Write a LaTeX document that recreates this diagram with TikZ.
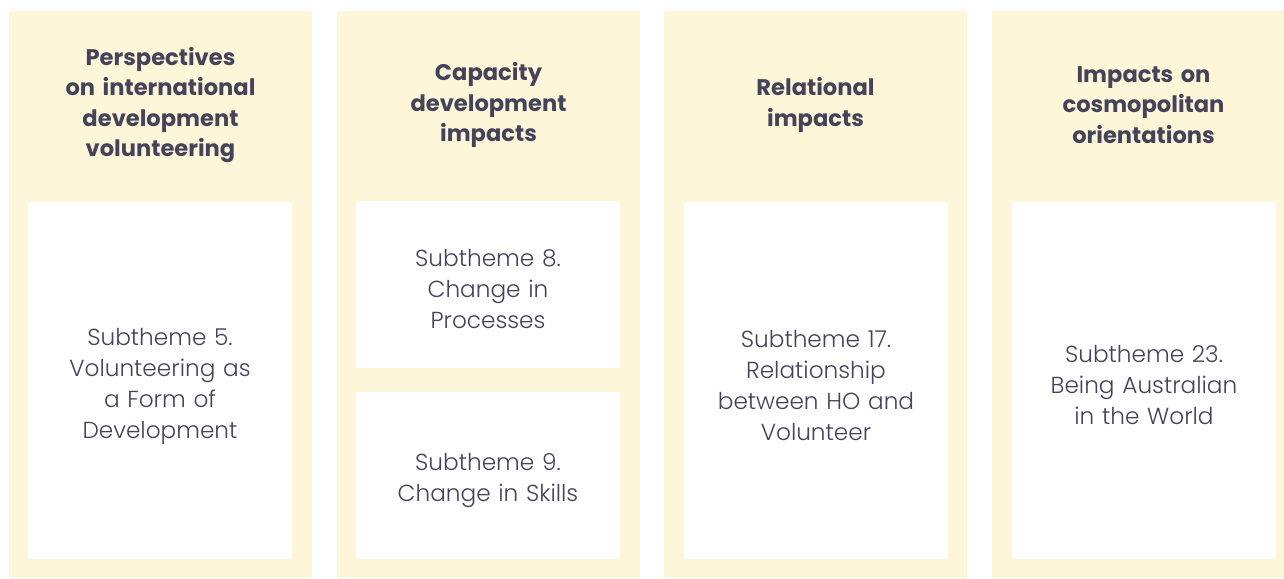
\documentclass[tikz,border=0pt]{standalone}
\usepackage{fontspec}
\setmainfont{Poppins}[UprightFont=* Light, BoldFont=* Bold]
\usepackage{tikz}
\definecolor{paleyellow}{HTML}{FEF6D9}
\definecolor{slate}{HTML}{45435A}
\tikzset{
  subbox/.style={fill=white, minimum width=264pt, inner sep=0pt},
  subtext/.style={text width=262pt, align=center, inner sep=0pt, text=slate,
    font=\fontsize{23.2}{31}\selectfont},
  heading/.style={text width=280pt, align=center, text=slate, font=\bfseries\fontsize{22.6}{30.6}\selectfont}
}
\newcommand{\Column}[3]{% left x, name, title
\fill[paleyellow] (#1,11) rectangle ++(303,567);
\node[heading] (#2-title) at (#1+151.5,105) {#3};
}

\begin{document}
\begin{tikzpicture}[x=1pt, y=-1pt]
\useasboundingbox (0,0) rectangle (1284,578);
\Column{9}{persp}{Perspectives\\on international\\development\\volunteering}
\Column{337}{capac}{Capacity\\development\\impacts}
\Column{664}{relat}{Relational\\impacts}
\Column{992}{cosmo}{Impacts on\\cosmopolitan\\orientations}
\node[subbox, minimum height=357pt] (sub5) at (160,380.5) {};
\node[subbox, minimum height=167pt] (sub8) at (488,284.5) {};
\node[subbox, minimum height=167pt] (sub9) at (488,475.5) {};
\node[subbox, minimum height=357pt] (sub17) at (816,380.5) {};
\node[subbox, minimum height=357pt] (sub23) at (1144,380.5) {};
\node[subtext] (sub5-text) at ([yshift=-5.5pt]sub5.center) {Subtheme 5.\\Volunteering as\\a Form of\\Development};
\node[subtext] (sub8-text) at ([yshift=-5pt]sub8.center) {Subtheme 8.\\Change in\\Processes};
\node[subtext] (sub9-text) at ([yshift=-5.5pt]sub9.center) {Subtheme 9.\\Change in Skills};
\node[subtext] (sub17-text) at ([yshift=-5.5pt]sub17.center) {Subtheme 17.\\Relationship\\between HO and\\Volunteer};
\node[subtext] (sub23-text) at ([yshift=-5pt]sub23.center) {Subtheme 23.\\Being Australian\\in the World};
\end{tikzpicture}
\end{document}
